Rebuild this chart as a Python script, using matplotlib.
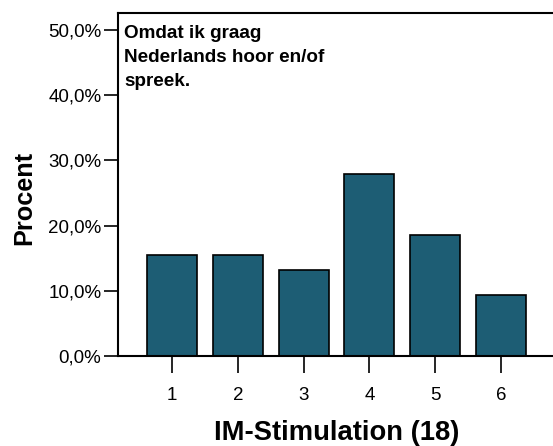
import matplotlib
matplotlib.use("Agg")
import matplotlib.pyplot as plt
from matplotlib.ticker import FuncFormatter

plt.rcParams['font.family'] = ['Liberation Sans', 'DejaVu Sans']

# data
categories = [1, 2, 3, 4, 5, 6]
percent = [15.5, 15.5, 13.2, 27.9, 18.6, 9.3]
title = "Omdat ik graag\nNederlands hoor en/of\nspreek."
bar_color = "#1d5d74"

fig = plt.figure(figsize=(5.53, 4.46), dpi=100)
ax = fig.add_axes([118/553, 90/446, 437/553, 343/446])

ax.bar(categories, percent, width=0.76, color=bar_color, edgecolor="black", linewidth=1.2)

ax.set_xlim(0.18, 6.82)
ax.set_ylim(0, 52.6)
ax.set_yticks([0, 10, 20, 30, 40, 50])
ax.yaxis.set_major_formatter(FuncFormatter(lambda v, p: f"{v:.1f}%".replace(".", ",")))
ax.set_xticks(categories)

for s in ax.spines.values():
    s.set_linewidth(1.5)

ax.tick_params(axis="y", direction="out", length=10, width=1.2, labelsize=13.5, pad=2)
ax.tick_params(axis="x", direction="out", length=12, width=1.2, labelsize=13.5, pad=10)

ax.set_xlabel("IM-Stimulation (18)", fontsize=19.7, fontweight="bold", labelpad=12)
ax.set_ylabel("Procent", fontsize=18.2, fontweight="bold")
ax.yaxis.set_label_coords(-0.186, 0.46)

ax.text(6/437, 1 - 12/343, title, transform=ax.transAxes, ha="left", va="top",
        fontsize=13.6, fontweight="bold", linespacing=1.54)

fig.savefig("out.png", dpi=100)
